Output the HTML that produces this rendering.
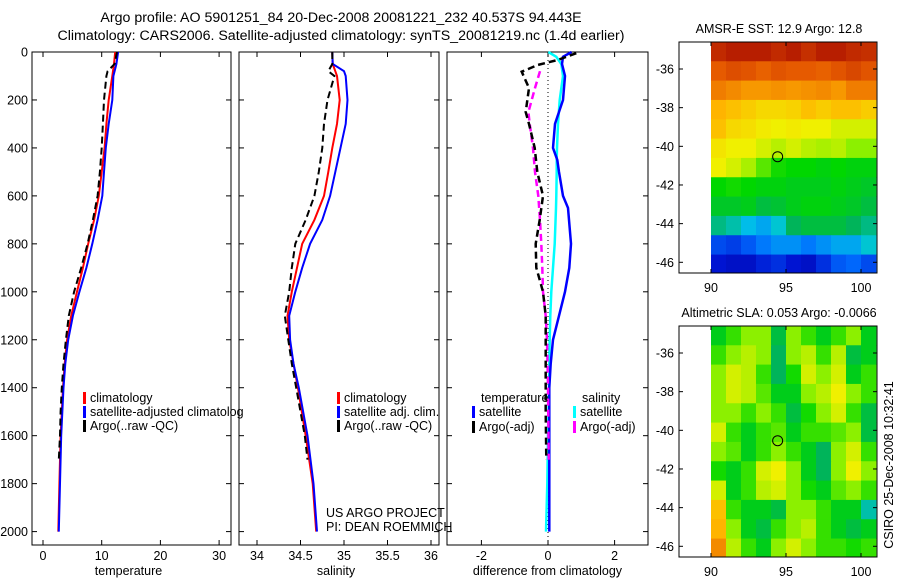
<!DOCTYPE html>
<html><head><meta charset="utf-8">
<style>
body{margin:0;background:#fff;}
svg{display:block;font-family:"Liberation Sans",sans-serif;font-size:12.5px;}
</style></head>
<body>
<svg id="c" width="900" height="580" viewBox="0 0 900 580" xmlns="http://www.w3.org/2000/svg">
<rect width="900" height="580" fill="#fff"/>
<text x="341" y="22" text-anchor="middle" font-size="14.2">Argo profile: AO 5901251_84 20-Dec-2008 20081221_232 40.537S 94.443E</text>
<text x="341" y="40" text-anchor="middle" font-size="14.2">Climatology: CARS2006. Satellite-adjusted climatology: synTS_20081219.nc (1.4d earlier)</text>
<g id="g"></g>
</svg>
<script>
// ---------- data ----------
const tDepth = [0,50,100,200,300,400,500,600,700,800,900,1000,1100,1200,1300,1400,1600,1800,2000];
const tClim  = [12.3,12.1,11.8,11.2,10.8,10.5,10.0,9.5,8.7,7.7,6.8,5.8,4.8,4.1,3.7,3.4,3.0,2.8,2.6];
const tSat   = [12.8,12.5,12.0,11.8,11.2,10.7,10.4,10.1,9.3,8.4,7.4,6.2,5.1,4.3,3.8,3.5,3.1,2.9,2.7];
const aDepth = [0,50,80,100,200,300,400,500,600,700,800,900,1000,1100,1200,1300,1400,1500,1600,1700];
const tArgo  = [12.6,12.2,11.0,10.8,10.4,10.2,10.0,9.7,9.3,8.5,7.6,6.5,5.3,4.4,3.9,3.5,3.2,3.0,2.9,2.7];
const sClim  = [34.865,34.87,34.90,34.92,34.95,34.92,34.865,34.82,34.77,34.66,34.52,34.46,34.40,34.35,34.37,34.42,34.47,34.56,34.64,34.68];
const sDepthC= [0,50,80,100,200,300,400,500,600,700,800,900,1000,1100,1200,1300,1400,1600,1800,2000];
const sSat   = [34.865,34.87,35.0,35.02,35.04,35.02,34.96,34.90,34.84,34.75,34.61,34.52,34.44,34.37,34.38,34.42,34.48,34.58,34.65,34.69];
const sArgo  = [34.865,34.865,34.82,34.89,34.81,34.77,34.75,34.71,34.66,34.56,34.44,34.40,34.37,34.32,34.36,34.40,34.45,34.50,34.55,34.58];
const dDepth = [0,20,50,100,200,300,400,450,500,600,650,800,900,1000,1100,1200,1300,1400,1600,1800,2000];
const dTSat  = [0.71,0.45,0.42,0.51,0.45,0.21,0.15,0.28,0.33,0.45,0.6,0.69,0.64,0.51,0.33,0.15,0.08,0.04,0.04,0.04,0.04];
const dSSat  = [0.01,0.25,0.40,0.45,0.35,0.30,0.27,0.26,0.26,0.25,0.24,0.2,0.15,0.1,0.07,0.05,0.04,0.03,0.0,-0.02,-0.06];
const daDepth= [5,33,54,82,150,250,300,400,500,600,700,800,900,950,1000,1100,1300,1500,1700];
const dTArgo = [0.85,0.3,-0.3,-0.79,-0.57,-0.67,-0.57,-0.4,-0.32,-0.15,-0.25,-0.37,-0.35,-0.25,-0.15,-0.07,-0.07,-0.07,-0.05];
const dmDepth= [80,150,250,300,400,500,600,700,800,900,1000,1100,1200,1400,1700];
const dSArgo = [-0.24,-0.39,-0.59,-0.55,-0.45,-0.39,-0.29,-0.24,-0.2,-0.17,-0.15,-0.07,-0.03,0.0,0.02];
const depthTicks = [0,200,400,600,800,1000,1200,1400,1600,1800,2000];
const tTicks = [0,10,20,30];
const sTicks = [34,34.5,35,35.5,36];
const sTickLabels = ["34","34.5","35","35.5","36"];
const dTicks = [-2,0,2];
const lonTicks = [90,95,100];
const latTicks = [-36,-38,-40,-42,-44,-46];
const sstGrid = [
[0.93,0.95,0.95,0.95,0.93,0.95,0.92,0.95,0.95,0.93,0.92],
[0.85,0.87,0.86,0.84,0.86,0.85,0.85,0.84,0.86,0.88,0.86],
[0.80,0.78,0.76,0.76,0.77,0.76,0.77,0.78,0.76,0.80,0.80],
[0.72,0.70,0.68,0.66,0.66,0.67,0.70,0.68,0.70,0.70,0.68],
[0.70,0.66,0.65,0.63,0.62,0.63,0.62,0.62,0.60,0.60,0.60],
[0.64,0.62,0.62,0.60,0.58,0.60,0.58,0.57,0.58,0.55,0.55],
[0.62,0.60,0.57,0.52,0.48,0.47,0.47,0.46,0.47,0.46,0.46],
[0.47,0.48,0.47,0.46,0.46,0.45,0.45,0.45,0.46,0.45,0.44],
[0.44,0.44,0.45,0.42,0.43,0.45,0.46,0.46,0.45,0.44,0.42],
[0.38,0.36,0.32,0.30,0.34,0.40,0.42,0.42,0.42,0.40,0.38],
[0.20,0.18,0.22,0.26,0.28,0.28,0.26,0.28,0.30,0.30,0.34],
[0.12,0.10,0.10,0.14,0.16,0.12,0.10,0.16,0.22,0.24,0.20]];
const slaGrid = [
[0.45,0.5,0.55,0.55,0.42,0.55,0.5,0.45,0.5,0.55,0.45],
[0.5,0.55,0.58,0.55,0.4,0.55,0.58,0.5,0.58,0.42,0.45],
[0.55,0.6,0.58,0.5,0.4,0.48,0.6,0.55,0.6,0.45,0.5],
[0.55,0.6,0.58,0.52,0.45,0.45,0.55,0.58,0.62,0.55,0.5],
[0.55,0.55,0.5,0.55,0.5,0.42,0.48,0.55,0.6,0.5,0.42],
[0.6,0.5,0.45,0.5,0.52,0.45,0.5,0.5,0.52,0.55,0.42],
[0.55,0.52,0.45,0.5,0.55,0.5,0.45,0.4,0.55,0.6,0.5],
[0.48,0.45,0.5,0.6,0.62,0.55,0.45,0.4,0.55,0.62,0.55],
[0.6,0.45,0.5,0.58,0.6,0.55,0.48,0.45,0.52,0.55,0.5],
[0.7,0.5,0.45,0.45,0.42,0.55,0.55,0.5,0.45,0.45,0.36],
[0.72,0.55,0.45,0.42,0.5,0.55,0.58,0.5,0.45,0.42,0.45],
[0.78,0.58,0.5,0.45,0.55,0.6,0.55,0.5,0.5,0.48,0.5]];
const argoLon = 94.443, argoLat = -40.537;

// ---------- drawing ----------
const NS="http://www.w3.org/2000/svg", G=document.getElementById('g');
function el(tag,attrs,parent){const e=document.createElementNS(NS,tag);for(const k in attrs)e.setAttribute(k,attrs[k]);(parent||G).appendChild(e);return e;}
const Y0=52, PY=0.2398; const yD=d=>Y0+d*PY;
const panels=[
 {name:'temperature',x0:32,x1:231,f:v=>43+v*5.87,ticks:tTicks,labels:tTicks.map(String)},
 {name:'salinity',x0:239,x1:439,f:v=>257+(v-34)*87,ticks:sTicks,labels:sTickLabels},
 {name:'difference',x0:447,x1:648,f:v=>548+v*33.3,ticks:dTicks,labels:dTicks.map(String)}];
const titles=['temperature','salinity','difference from climatology'];
panels.forEach((p,i)=>{
  const r=el('rect',{x:p.x0,y:Y0,width:p.x1-p.x0,height:545-Y0,fill:'none',stroke:'#000','stroke-width':1});
  
  
  p.ticks.forEach((t,j)=>{const x=p.f(t);
    el('line',{x1:x,x2:x,y1:Y0,y2:Y0+5,stroke:'#000'});el('line',{x1:x,x2:x,y1:545,y2:540,stroke:'#000'});
    const tx=el('text',{x:x,y:560,'text-anchor':'middle'});tx.textContent=p.labels[j];
    
    });
  depthTicks.forEach(d=>{const y=yD(d);
    el('line',{x1:p.x0,x2:p.x0+5,y1:y,y2:y,stroke:'#000'});el('line',{x1:p.x1,x2:p.x1-5,y1:y,y2:y,stroke:'#000'});
    if(i==0){const tx=el('text',{x:28,y:y+4.5,'text-anchor':'end'});tx.textContent=String(d);
      
      }});
  const at=el('text',{x:(p.x0+p.x1)/2+(i==2?0:-3),y:575,'text-anchor':'middle'});at.textContent=titles[i];
  
  
});
function line(xs,ds,f,col,w,dash,name){
  const pts=xs.map((v,i)=>f(v).toFixed(1)+','+yD(ds[i]).toFixed(1)).join(' ');
  const a={points:pts,fill:'none',stroke:col,'stroke-width':w};if(dash)a['stroke-dasharray']=dash;
  const e=el('polyline',a);
  
  }
const P=panels;
line(tClim,tDepth,P[0].f,'#f00',2,null,'temp-climatology-line');
line(tSat,tDepth,P[0].f,'#00f',2,null,'temp-satellite-line');
line(tArgo,aDepth,P[0].f,'#000',2,'7,4','temp-argo-line');
line(sClim,sDepthC,P[1].f,'#f00',2,null,'sal-climatology-line');
line(sSat,sDepthC,P[1].f,'#00f',2,null,'sal-satellite-line');
line(sArgo,aDepth,P[1].f,'#000',2,'7,4','sal-argo-line');
el('line',{x1:548,x2:548,y1:Y0,y2:545,stroke:'#000','stroke-dasharray':'1,3'});
line(dSSat,dDepth,P[2].f,'#0ff',2.5,null,'diff-sal-satellite-line');
line(dTSat,dDepth,P[2].f,'#00f',2.5,null,'diff-temp-satellite-line');
line(dSArgo,dmDepth,P[2].f,'#f0f',2.5,'7,4','diff-sal-argo-line');
line(dTArgo,daDepth,P[2].f,'#000',2.5,'7,4','diff-temp-argo-line');
function legend(x,y,col,txt,name){
  if(col)el('rect',{x:x,y:y-10,width:3,height:12,fill:col});
  const t=el('text',{x:x+7,y:y});t.textContent=txt;
  
  }
legend(83,402,'#f00','climatology','legend-climatology');
legend(83,416,'#00f','satellite-adjusted climatolog','legend-satellite-adjusted');
legend(83,430,'#000','Argo(..raw -QC)','legend-argo');
legend(337,402,'#f00','climatology','legend-climatology-sal');
legend(337,416,'#00f','satellite adj. clim.','legend-satellite-sal');
legend(337,430,'#000','Argo(..raw -QC)','legend-argo-sal');
legend(474,402,null,'temperature','legend-temperature-head');
legend(472,416,'#00f','satellite','legend-temp-satellite');
legend(472,431,'#000','Argo(-adj)','legend-temp-argo');
legend(575,402,null,'salinity','legend-salinity-head');
legend(573,416,'#0ff','satellite','legend-sal-satellite');
legend(573,431,'#f0f','Argo(-adj)','legend-sal-argo');
[['US ARGO PROJECT',517,'credit-project'],['PI: DEAN ROEMMICH',531,'credit-pi']].forEach(a=>{
  const t=el('text',{x:326,y:a[1]});t.textContent=a[0];
  
  });

// maps
const stops=[[0,[0,0,140]],[0.12,[0,20,210]],[0.25,[0,110,255]],[0.33,[0,200,230]],[0.4,[0,180,90]],[0.47,[0,215,0]],[0.55,[140,240,0]],[0.62,[240,240,0]],[0.72,[255,180,0]],[0.85,[230,90,0]],[1,[160,0,0]]];
function cmap(v){for(let i=1;i<stops.length;i++){if(v<=stops[i][0]){const a=stops[i-1],b=stops[i],t=(v-a[0])/(b[0]-a[0]);
  return 'rgb('+a[1].map((c,k)=>Math.round(c+(b[1][k]-c)*t)).join(',')+')';}}return 'rgb(160,0,0)';}
function map(top,grid,title,name){
  const lx=lon=>711+(lon-90)*15, ly=lat=>top+27+(-36-lat)*19.33;
  const g=el('g',{});
  grid.forEach((row,r)=>row.forEach((v,c)=>{
    const x=lx(90+c),y=ly(-34.6-r),w=Math.min(lx(91+c),877)-x,h=Math.min(ly(-35.6-r),top+231)-y;
    const cell=el('rect',{x:x,y:y,width:w+0.4,height:h+0.4,fill:cmap(v)},g);
    
    }));
  el('rect',{x:679,y:top,width:198,height:231,fill:'none',stroke:'#000'},g);
  lonTicks.forEach(l=>{const x=lx(l);el('line',{x1:x,x2:x,y1:top,y2:top+4,stroke:'#000'},g);el('line',{x1:x,x2:x,y1:top+231,y2:top+227,stroke:'#000'},g);
    const t=el('text',{x:x,y:top+250,'text-anchor':'middle'},g);t.textContent=String(l);});
  latTicks.forEach(l=>{const y=ly(l);el('line',{x1:679,x2:683,y1:y,y2:y,stroke:'#000'},g);el('line',{x1:877,x2:873,y1:y,y2:y,stroke:'#000'},g);
    const t=el('text',{x:674,y:y+4.5,'text-anchor':'end'},g);t.textContent=String(l);});
  const c=el('circle',{cx:lx(argoLon),cy:ly(argoLat),r:5,fill:'none',stroke:'#000'},g);
  
  
  const t=el('text',{x:779,y:top-9,'text-anchor':'middle'});t.textContent=title;
  
  }
map(42,sstGrid,'AMSR-E SST: 12.9 Argo: 12.8','sst-map');
map(326,slaGrid,'Altimetric SLA: 0.053 Argo: -0.0066','sla-map');
const cs=el('text',{x:0,y:0,'text-anchor':'middle',transform:'translate(893,465) rotate(-90)'});
cs.textContent='CSIRO 25-Dec-2008 10:32:41';


</script>
</body></html>
